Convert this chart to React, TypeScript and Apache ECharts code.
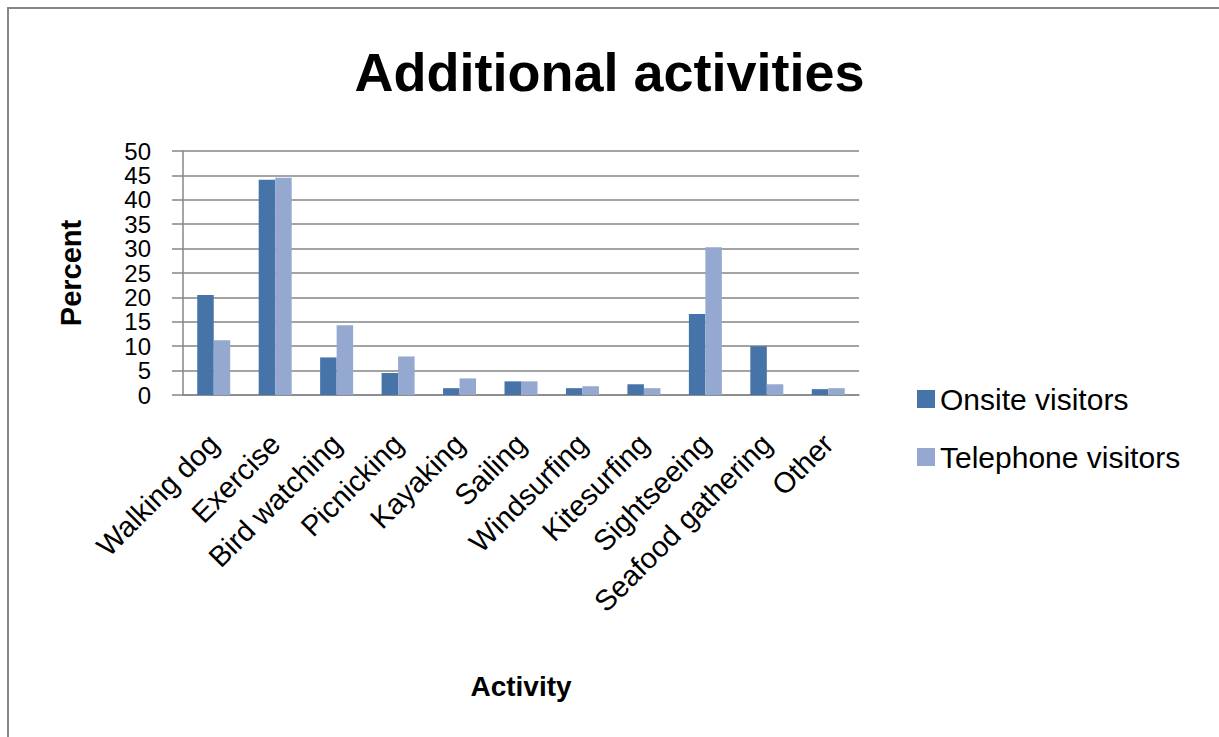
import React, { useEffect, useRef } from "react";
import * as echarts from "echarts";

const categories = [
  "Walking dog",
  "Exercise",
  "Bird watching",
  "Picnicking",
  "Kayaking",
  "Sailing",
  "Windsurfing",
  "Kitesurfing",
  "Sightseeing",
  "Seafood gathering",
  "Other",
];
const onsiteVisitors = [20.5, 44.1, 7.7, 4.5, 1.4, 2.8, 1.4, 2.2, 16.6, 10.0, 1.2];
const telephoneVisitors = [11.2, 44.5, 14.3, 7.9, 3.4, 2.8, 1.8, 1.4, 30.3, 2.2, 1.4];
const seriesNames = ["Onsite visitors", "Telephone visitors"];
const titleText = "Additional activities";
const xAxisName = "Activity";
const yAxisName = "Percent";

const FONT = "'Liberation Sans', 'DejaVu Sans', Arial, sans-serif";

export default function App() {
  const ref = useRef<HTMLDivElement>(null);
  useEffect(() => {
    if (!ref.current) return;
    const chart = echarts.init(ref.current, null, { renderer: "svg" });
    chart.setOption({
      animation: false,
      backgroundColor: "#ffffff",
      textStyle: { fontFamily: FONT, color: "#000" },
      title: {
        text: titleText,
        left: "center",
        top: 40,
        textStyle: { fontSize: 54, fontWeight: "bold", color: "#000", fontFamily: FONT },
      },
      graphic: [
        {
          type: "rect",
          shape: { x: 8, y: 8, width: 1400, height: 900 },
          style: { fill: "none", stroke: "#868686", lineWidth: 2 },
          silent: true,
          z: -1,
        },
      ],
      legend: {
        orient: "vertical",
        left: 912,
        top: 379,
        itemWidth: 18,
        itemHeight: 18,
        itemGap: 28,
        icon: "rect",
        textStyle: { fontSize: 30, color: "#000", fontFamily: FONT, padding: [0, 0, 0, 0] },
        data: seriesNames,
      },
      grid: { left: 183, right: 360, top: 151, bottom: 342, containLabel: false },
      xAxis: {
        type: "category",
        data: categories,
        name: xAxisName,
        nameLocation: "middle",
        nameGap: 277,
        nameTextStyle: { fontSize: 28, fontWeight: "bold", color: "#000" },
        axisLine: { show: true, lineStyle: { color: "#868686", width: 1.5 } },
        axisTick: { show: false },
        axisLabel: { rotate: 45, fontSize: 29, color: "#000", margin: 44, interval: 0 },
      },
      yAxis: {
        type: "value",
        min: 0,
        max: 50,
        interval: 5,
        name: yAxisName,
        nameLocation: "middle",
        nameGap: 98,
        nameTextStyle: { fontSize: 29, fontWeight: "bold", color: "#000" },
        axisLine: { show: true, lineStyle: { color: "#868686", width: 1.5 } },
        axisTick: { show: true, length: 11, lineStyle: { color: "#868686", width: 1.5 } },
        axisLabel: {
          fontSize: 24,
          lineHeight: 22,
          color: "#000",
          margin: 32,
          showMinLabel: true,
          showMaxLabel: true,
          hideOverlap: false,
        },
        splitLine: { show: true, lineStyle: { color: "#868686", width: 1.5 } },
      },
      series: [
        {
          name: seriesNames[0],
          type: "bar",
          data: onsiteVisitors,
          barWidth: 16.5,
          barGap: "0%",
          itemStyle: { color: "#4674A8" },
        },
        {
          name: seriesNames[1],
          type: "bar",
          data: telephoneVisitors,
          barWidth: 16.5,
          barGap: "0%",
          itemStyle: { color: "#95A9D0" },
        },
      ],
    });
    return () => chart.dispose();
  }, []);
  return (
    <div
      ref={ref}
      style={{ position: "absolute", left: 0, top: 0, width: 1219, height: 737 }}
    />
  );
}
